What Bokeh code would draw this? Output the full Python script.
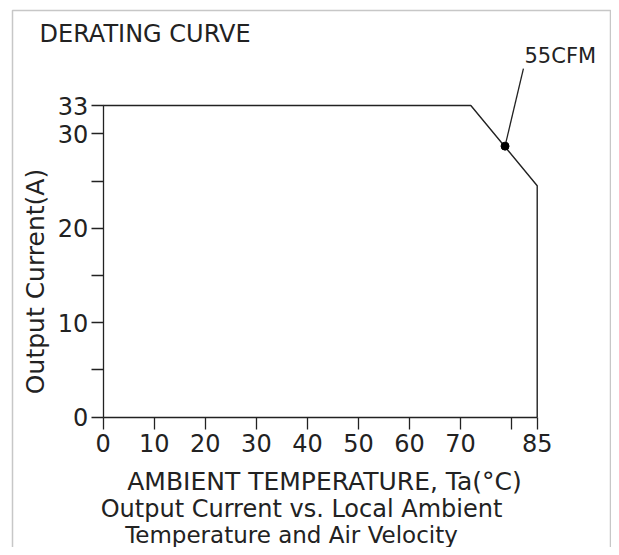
from bokeh.plotting import figure
from bokeh.models import LinearAxis, FixedTicker, Range1d, Label, BoxAnnotation
from bokeh.embed import file_html
from bokeh.resources import INLINE

# ---- data ----
temp = [0, 72, 85, 85]
current = [33, 33, 24.5, 0]
point_temp = [78.7]
point_current = [28.7]
point_name = "55CFM"
leader_temp = [78.7, 82.3]
leader_current = [28.7, 36.9]

x_ticks = [0, 10, 20, 30, 40, 50, 60, 70, 80, 85]
x_tick_labels = ["0", "10", "20", "30", "40", "50", "60", "70", "", "85"]
y_ticks = [0, 5, 10, 15, 20, 25, 30, 33]
y_tick_labels = ["0", "", "10", "", "20", "", "30", "33"]

title_text = "DERATING CURVE"
x_title = "AMBIENT TEMPERATURE, Ta(°C)"
y_title = "Output Current(A)"
caption1 = "Output Current vs. Local Ambient"
caption2 = "Temperature and Air Velocity"

# ---- layout ----
W, H = 611, 547
X0, XS = 102.7, 5.106     # canvas px of x=0, px per degree
Y0, YS = 416.7, 9.445     # canvas px (from top) of y=0, px per amp


def dx(cx):
    return (cx - X0) / XS


def dy(cy):
    return (Y0 - cy) / YS


FONT = "DejaVu Sans"
INK = "#222222"

p = figure(width=W, height=H, output_backend="svg", toolbar_location=None,
           x_axis_type=None, y_axis_type=None,
           x_range=Range1d(dx(0), dx(W)), y_range=Range1d(dy(H), dy(0)),
           min_border=0, outline_line_color=None)
p.background_fill_color = "white"
p.border_fill_color = "white"

# frame border
p.add_layout(BoxAnnotation(left=dx(12), right=dx(610), top=dy(10), bottom=dy(H + 20),
                           fill_color=None, line_color="#444444", line_width=1.5))

yaxis = LinearAxis(ticker=FixedTicker(ticks=y_ticks), fixed_location=0, bounds=(0, 33))
yaxis.major_label_overrides = {t: l for t, l in zip(y_ticks, y_tick_labels)}
xaxis = LinearAxis(ticker=FixedTicker(ticks=x_ticks), fixed_location=0, bounds=(0, 85))
xaxis.major_label_overrides = {t: l for t, l in zip(x_ticks, x_tick_labels)}
for ax, so in ((yaxis, 3), (xaxis, 5)):
    ax.major_tick_in = 0
    ax.major_tick_out = 12
    ax.minor_tick_line_color = None
    ax.axis_line_color = INK
    ax.axis_line_width = 1.3
    ax.major_tick_line_color = INK
    ax.major_tick_line_width = 1.3
    ax.major_label_standoff = so
    ax.major_label_text_font = FONT
    ax.major_label_text_font_size = "24px"
    ax.major_label_text_color = INK
p.add_layout(yaxis, "left")
p.add_layout(xaxis, "below")

p.line(temp, current, line_color=INK, line_width=1.4)
p.line(leader_temp, leader_current, line_color=INK, line_width=1.3)
p.scatter(point_temp, point_current, size=8, color="black")


def lab(text, cx, cy, align="left", size="24px", angle=0):
    p.add_layout(Label(x=dx(cx), y=dy(cy), text=text, text_align=align,
                       text_baseline="middle", text_font=FONT, text_font_size=size,
                       text_color=INK, angle=angle, angle_units="deg"))


lab(title_text, 39, 33, size="24px")
lab(point_name, 524, 55, size="21px")
lab(x_title, 324, 481, align="center", size="25px")
lab(caption1, 301, 508, align="center")
lab(caption2, 291, 534, align="center", size="23px")
lab(y_title, 35, 281, align="center", size="25px", angle=90)

open("out.html", "w").write(file_html(p, INLINE))
